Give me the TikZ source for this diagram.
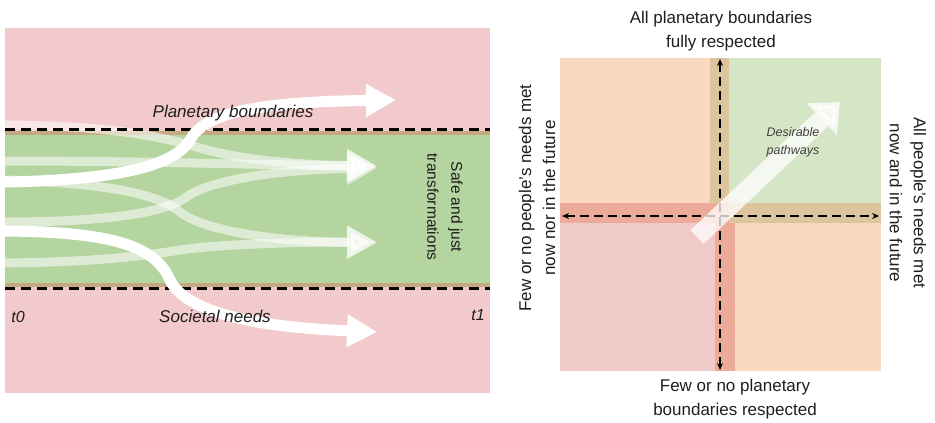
\documentclass[tikz,border=0pt]{standalone}
\usepackage{fontspec}
\setmainfont{Liberation Sans}
\usetikzlibrary{arrows.meta}
\definecolor{bgpink}{RGB}{242,202,204}
\definecolor{bandgreen}{RGB}{180,212,160}
\definecolor{bandtan}{RGB}{196,170,130}
\definecolor{qpeach}{RGB}{250,216,192}
\definecolor{qgreen}{RGB}{213,230,198}
\definecolor{qpink}{RGB}{240,201,201}
\definecolor{qtan}{RGB}{220,196,156}
\definecolor{qsalmon}{RGB}{236,170,152}
\definecolor{txt}{RGB}{30,30,30}
\begin{document}
\begin{tikzpicture}[x=1pt,y=-1pt,
  lbl/.style={text=txt, align=center, inner sep=0pt, font=\fontsize{17}{24}\selectfont},
  itl/.style={text=txt, align=center, inner sep=0pt, font=\fontsize{17}{22}\selectfont\itshape},
  sjlbl/.style={text=txt, align=center, inner sep=0pt, font=\fontsize{15.5}{24}\selectfont},
  deslbl/.style={text=black!75, align=center, inner sep=0pt, font=\fontsize{12.5}{18}\selectfont\itshape},
  boundline/.style={black, line width=3pt, dash pattern=on 10pt off 6pt},
  flowarrow/.style={white, line width=11pt, -{Triangle[length=30pt,width=31pt]}},
  faintarrow/.style={white, opacity=0.55, line width=9pt, -{Triangle[length=30pt,width=31pt]}},
  dasharrow/.style={black, line width=2.4pt, dash pattern=on 9pt off 5pt, {Stealth[length=7pt,width=6pt]}-{Stealth[length=7pt,width=6pt]}},
  diagarrow/.style={white, opacity=0.75, line width=19pt, -{Triangle[length=25pt,width=42pt]}}
]
\useasboundingbox (0,0) rectangle (935,423);
% ---------- left panel ----------
\fill[bgpink] (5,28) rectangle (490,393);
\fill[bandgreen] (5,131) rectangle (490,287);
\fill[bandtan] (5,131) rectangle (490,135);
\fill[bandtan] (5,283) rectangle (490,287);
% faint pathways
\coordinate (a0) at (5,125);  \coordinate (a1) at (377,166);
\coordinate (b0) at (5,161);  \coordinate (b1) at (377,166);
\coordinate (c0) at (5,180);  \coordinate (c1) at (377,243);
\coordinate (d0) at (5,222);  \coordinate (d1) at (377,168);
\coordinate (e0) at (5,263);  \coordinate (e1) at (377,242);
\draw[faintarrow] (a0) .. controls (120,126) and (165,138) .. (200,148) .. controls (240,160) and (300,165) .. (a1);
\draw[faintarrow] (b0) .. controls (150,161) and (260,165) .. (b1);
\draw[faintarrow] (c0) .. controls (110,183) and (160,195) .. (180,212) .. controls (200,228) and (260,241) .. (c1);
\draw[faintarrow] (d0) .. controls (120,222) and (168,210) .. (185,198) .. controls (202,184) and (260,170) .. (d1);
\draw[faintarrow] (e0) .. controls (100,262) and (150,255) .. (180,250) .. controls (220,244) and (300,242) .. (e1);
% boundaries
\draw[boundline] (5,129) -- (490,129);
\draw[boundline] (5,288) -- (490,288);
% opaque pathways
\coordinate (p0) at (5,182);  \coordinate (p1) at (396,100);
\coordinate (s0) at (5,231);  \coordinate (s1) at (377,332);
\draw[flowarrow] (p0) .. controls (120,180) and (175,165) .. (190,140) .. controls (205,112) and (260,102) .. (p1);
\draw[flowarrow] (s0) .. controls (110,232) and (155,245) .. (170,280) .. controls (182,305) and (230,326) .. (s1);
% labels
\node[itl] (pb) at (233,113) {Planetary boundaries};
\node[itl] (sn) at (215,316) {Societal needs};
\node[itl, font=\fontsize{16}{20}\selectfont\itshape] (t0) at (18,317) {t0};
\node[itl, font=\fontsize{16}{20}\selectfont\itshape] (t1) at (478,315) {t1};
\node[sjlbl, rotate=-90] (sj) at (445,207) {Safe and just\\transformations};
% ---------- right panel ----------
\fill[qpeach] (560,58) rectangle (710,203);
\fill[qgreen] (729,58) rectangle (881,203);
\fill[qpink] (560,223) rectangle (715,371);
\fill[qpeach] (735,223) rectangle (881,371);
\fill[qtan] (710,58) rectangle (729,203);
\fill[qtan] (729,203) rectangle (881,223);
\fill[qsalmon] (560,203) rectangle (729,223);
\fill[qsalmon] (715,223) rectangle (735,371);
\coordinate (vt) at (720,59);  \coordinate (vb) at (720,370);
\coordinate (hl) at (562,216); \coordinate (hr) at (879,216);
\draw[dasharrow] (vb) -- (vt);
\draw[dasharrow] (hl) -- (hr);
\coordinate (ds) at (697,237); \coordinate (dt) at (840,102);
\draw[diagarrow] (ds) -- (dt);
\node[deslbl] (des) at (793,142) {Desirable\\pathways};
\node[lbl] (top) at (721,31) {All planetary boundaries\\fully respected};
\node[lbl] (bot) at (735,399) {Few or no planetary\\boundaries respected};
\node[lbl, rotate=90] (lft) at (537,198) {Few or no people's needs met\\now nor in the future};
\node[lbl, rotate=-90] (rgt) at (908,203) {All people's needs met\\now and in the future};
\end{tikzpicture}
\end{document}
